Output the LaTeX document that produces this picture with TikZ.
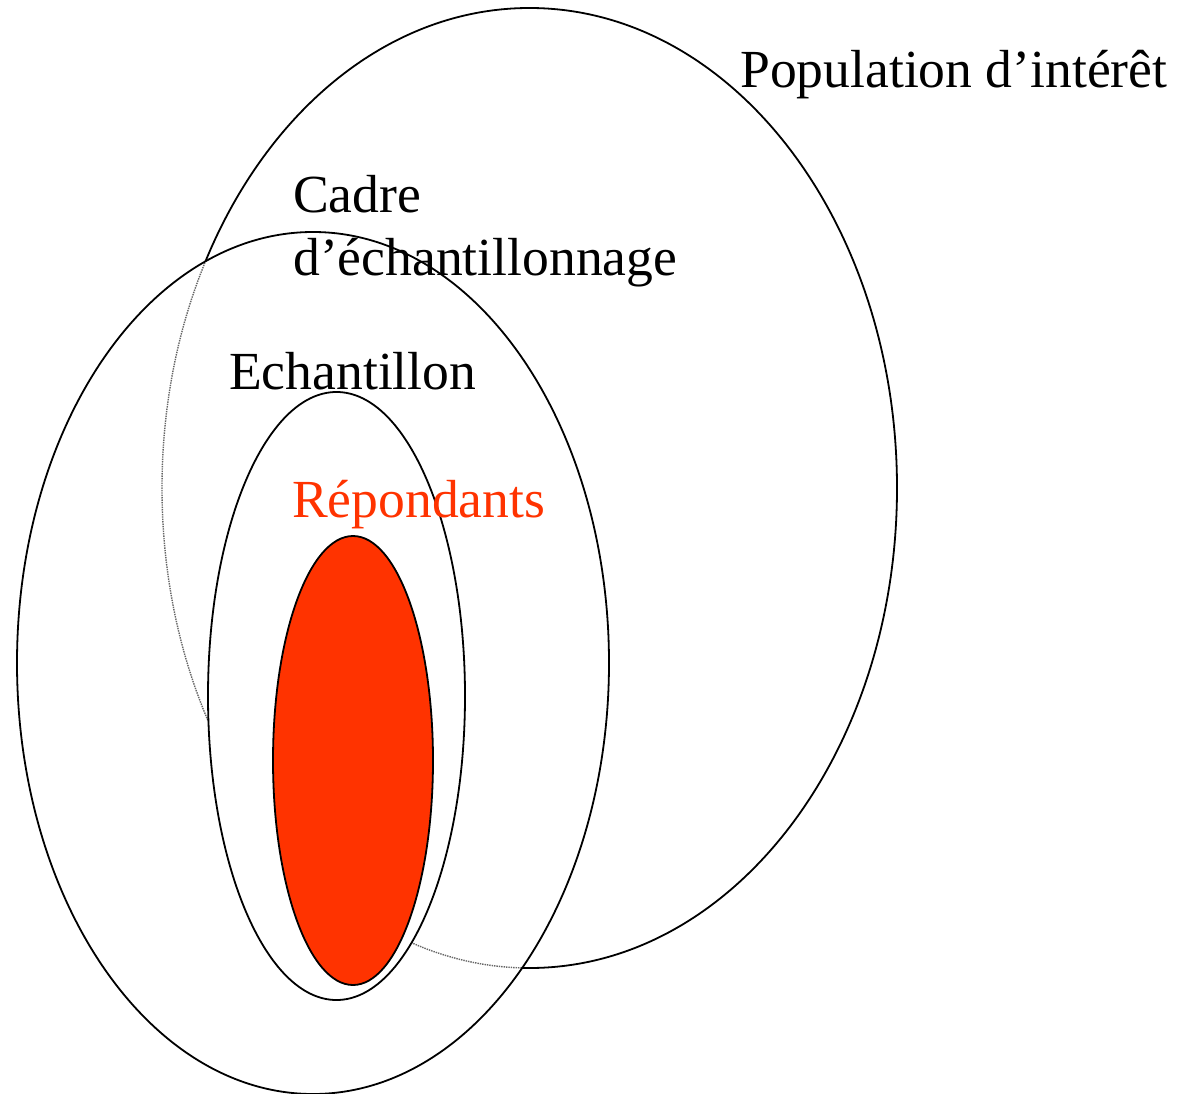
\documentclass[tikz,border=0pt]{standalone}
\usepackage{fontspec}
\setmainfont{Liberation Serif}
\definecolor{rep}{HTML}{FF3300}
\begin{document}
\begin{tikzpicture}[x=1pt,y=-1pt,
  outline/.style={draw=black,line width=1.8pt},
  hidden/.style={draw=black!60,line width=1.4pt,densely dotted},
  lbl/.style={anchor=base west,inner sep=0pt,font=\fontsize{53.6}{62}\selectfont}]
\useasboundingbox (0,0) rectangle (1178,1094);
% population
\draw[outline] (529.5,488) ellipse [x radius=367.5pt, y radius=480pt];
% cadre (white, hiding population)
\fill[white] (313,663) ellipse [x radius=296pt, y radius=431pt];
\begin{scope}
  \clip (313,663) ellipse [x radius=296pt, y radius=431pt];
  \draw[hidden] (529.5,488) ellipse [x radius=367.5pt, y radius=480pt];
\end{scope}
\draw[outline] (313,663) ellipse [x radius=296pt, y radius=431pt];
% echantillon
\filldraw[fill=white,outline] (336.5,696) ellipse [x radius=128.5pt, y radius=304pt];
% repondants
\filldraw[fill=rep,outline] (353,760.5) ellipse [x radius=80pt, y radius=224.5pt];
% labels
\node[lbl] (pop) at (740,88) {Population d’intérêt};
\node[lbl] (cad1) at (293,213) {Cadre};
\node[lbl] (cad2) at (293,275) {d’échantillonnage};
\node[lbl] (ech) at (229,389) {Echantillon};
\node[lbl,text=rep] (rep) at (292,517) {Répondants};
\end{tikzpicture}
\end{document}
